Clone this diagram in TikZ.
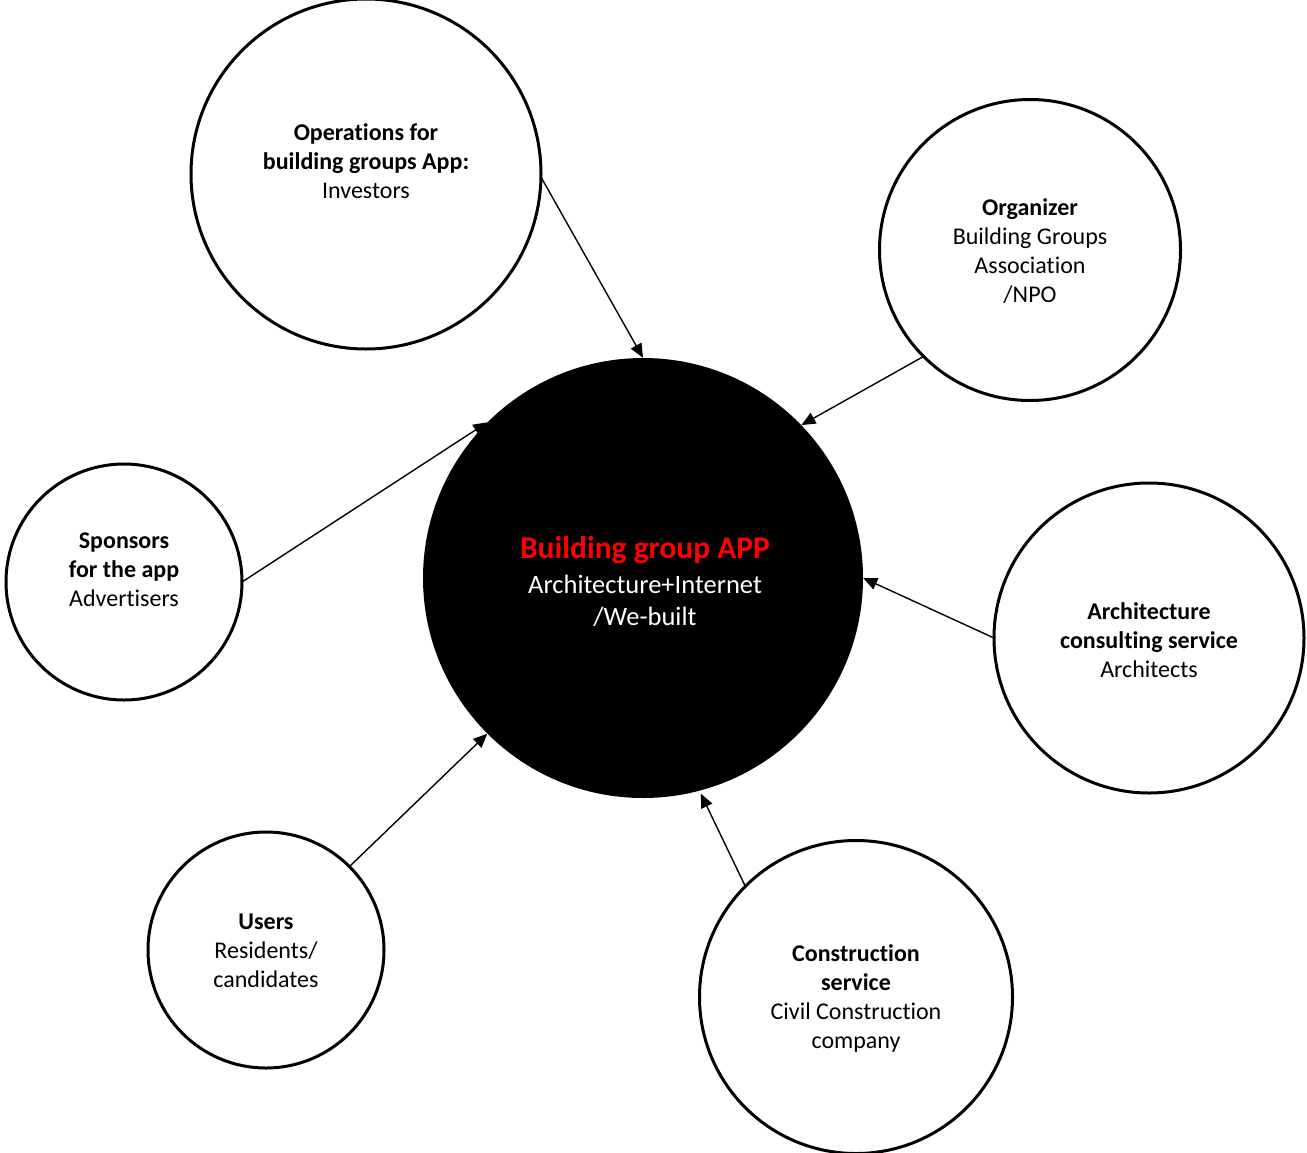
\documentclass[tikz,border=0pt]{standalone}
\usepackage{fontspec}
\setmainfont{Carlito}[Ligatures=NoCommon]
\usetikzlibrary{arrows.meta}
\begin{document}
\begin{tikzpicture}[x=1pt,y=-1pt,
  circ/.style={circle,draw=black,line width=3pt,inner sep=0pt,outer sep=0pt},
  lbl/.style={align=center,font=\fontsize{24}{29}\selectfont,inner sep=0pt},
  conn/.style={line width=1.4pt,-{Triangle[length=14pt,width=12pt]}}]
\useasboundingbox (0,0) rectangle (1307,1152);
% circles
\node[circle,fill=black,inner sep=0pt,minimum size=440pt] (app) at (643,578) {};
\node[circ,minimum size=350pt] (ops) at (366,174) {};
\node[circ,minimum size=301pt] (org) at (1030,250) {};
\node[circ,minimum size=236pt] (spo) at (124,582) {};
\node[circ,minimum size=310pt] (arc) at (1149,638) {};
\node[circ,minimum size=236pt] (usr) at (266,950) {};
\node[circ,minimum size=313pt] (con) at (856,997) {};
% texts
\node[align=center,inner sep=0pt,font=\fontsize{26.5}{32}\selectfont,text=white] (tapp) at (645,582)
  {{\fontsize{31.5}{32}\selectfont\bfseries\color{red}Building group APP}\\[3pt]
   Architecture+Internet\\
   /We-built};
\node[lbl] (tops) at (366,161) {\textbf{Operations for}\\\textbf{building groups App:}\\Investors};
\node[lbl] (torg) at (1030,251) {\textbf{Organizer}\\Building Groups\\Association\\/NPO};
\node[lbl] (tspo) at (124,570) {\textbf{Sponsors}\\\textbf{for the app}\\Advertisers};
\node[lbl] (tarc) at (1149,640) {\textbf{Architecture}\\\textbf{consulting service}\\Architects};
\node[lbl] (tusr) at (266,951) {\textbf{Users}\\Residents/\\candidates};
\node[lbl] (tcon) at (856,998) {\textbf{Construction}\\\textbf{service}\\Civil Construction\\company};
% connectors
\draw[conn] (ops.-1) -- (app.90);
\draw[conn] (org.-135) -- (app.44);
\draw[conn] (spo.0) -- (app.135);
\draw[conn] (arc.180) -- (app.0);
\draw[conn] (usr.45) -- (app.-135);
\draw[conn] (con.135) -- ([shift={(-75:3pt)}]app.-75);
\end{tikzpicture}
\end{document}
